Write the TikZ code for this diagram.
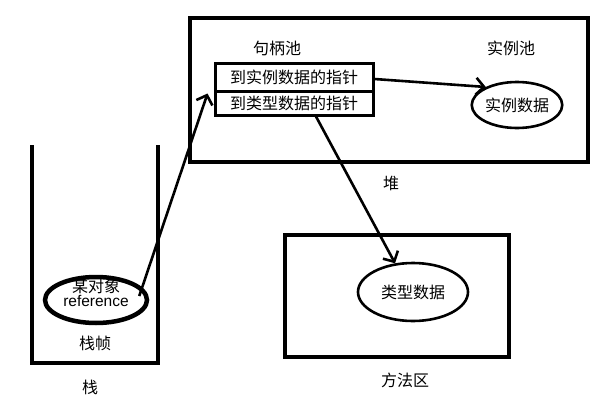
\documentclass[tikz,border=0pt]{standalone}
\usepackage{fontspec}
\setmainfont{Noto Sans CJK SC}
\newfontfamily\latfont{Liberation Sans}
\usetikzlibrary{arrows.meta,shapes.geometric,calc}
\begin{document}
\begin{tikzpicture}[x=1pt,y=-1pt,
  box/.style={draw,line width=3.5pt,inner sep=0pt},
  cell/.style={draw,line width=3pt,inner sep=0pt,minimum width=158pt,font=\fontsize{16}{17}\selectfont},
  lbl/.style={inner sep=0pt,font=\fontsize{16}{17}\selectfont},
  oval/.style={draw,ellipse,line width=2.6pt,inner sep=0pt},
  arr/.style={line width=2.6pt,-{Straight Barb[length=8pt,width=17pt,line width=2.6pt]}}
]
\useasboundingbox (0,0) rectangle (604,404);
% heap
\node[box,minimum width=398pt,minimum height=144pt] (heap) at (389,90) {};
\node[lbl] (hpool) at (277,48) {句柄池};
\node[lbl] (ipool) at (511,48) {实例池};
\node[lbl] (heaplbl) at (391,183) {堆};
\node[cell,minimum height=28pt] (ptra) at (294,77) {\raisebox{-2pt}{到实例数据的指针}};
\node[cell,minimum height=24pt] (ptrb) at (294,103) {\raisebox{1pt}{到类型数据的指针}};
\node[oval,minimum width=84pt,minimum height=46pt,lbl] (inst) at (517,105) {实例数据};
% stack
\coordinate (s1) at (32,145);
\coordinate (s2) at (32,363);
\coordinate (s3) at (158,363);
\coordinate (s4) at (158,145);
\draw[line width=3.5pt] (s1) -- (s2) -- (s3) -- (s4);
\node[oval,line width=4.5pt,minimum width=102pt,minimum height=46pt] (ref) at (96,300) {};
\node[lbl] (refcn) at (96,286) {某对象};
\node[inner sep=0pt,font=\latfont\fontsize{15.5}{17}\selectfont] (refen) at (96,301) {reference};
\node[lbl] (frame) at (95,343) {栈帧};
\node[lbl] (stacklbl) at (90,387) {栈};
% method area
\node[box,minimum width=224pt,minimum height=122pt] (method) at (397,296) {};
\node[oval,minimum width=110pt,minimum height=58pt,lbl] (type) at (413,292) {类型数据};
\node[lbl] (methodlbl) at (405,380) {方法区};
% arrows
\draw[arr] ($(ref.east)+(-10,-4)$) -- ($(ptra.south west)+(-6,1)$);
\draw[arr] ($(ptra.east)+(0,2)$) -- (inst.150);
\draw[arr] ($(ptrb.south)+(22,0)$) -- (type.122);
\end{tikzpicture}
\end{document}
